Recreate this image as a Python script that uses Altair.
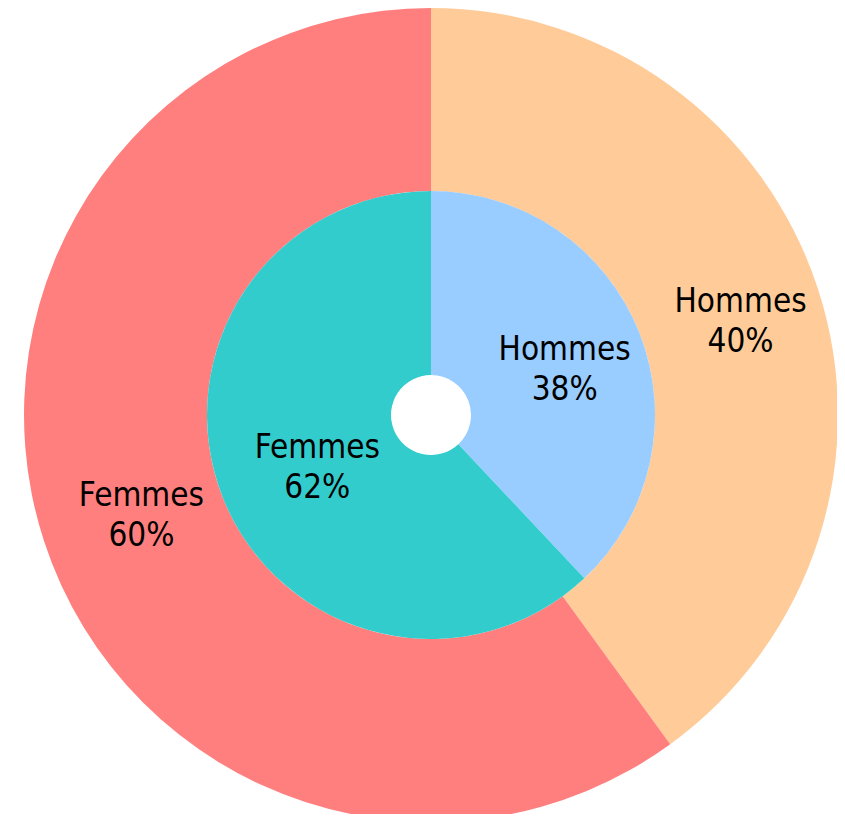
import altair as alt
import pandas as pd

categories = ["Hommes", "Femmes"]
outer_values = [40, 60]
inner_values = [38, 62]
outer_colors = ["#FFCC99", "#FF7F7F"]
inner_colors = ["#99CCFF", "#33CCCC"]

rows = []
for ring, vals in (("ext", outer_values), ("int", inner_values)):
    for i, (c, v) in enumerate(zip(categories, vals)):
        rows.append({"anneau": ring, "categorie": c, "valeur": v, "ordre": i,
                     "cle": f"{ring}-{c}", "etiquette": f"{c}\n{v}%"})
df = pd.DataFrame(rows)

domain = [f"ext-{c}" for c in categories] + [f"int-{c}" for c in categories]
rng = outer_colors + inner_colors

CX, CY = 423, 407
FONT = "DejaVu Sans Condensed"

def ring_layers(ring, r0, r1, rlab):
    base = alt.Chart(df).transform_filter(alt.datum.anneau == ring)
    arc = base.mark_arc(innerRadius=r0, outerRadius=r1, strokeWidth=0).encode(
        theta=alt.Theta("valeur:Q", stack=True),
        order=alt.Order("ordre:Q"),
        color=alt.Color("cle:N", scale=alt.Scale(domain=domain, range=rng), legend=None),
        x=alt.value(CX), y=alt.value(CY),
    )
    txt = base.mark_text(font=FONT, fontSize=33, color="#000000", lineBreak="\n",
                         lineHeight=40, align="center", baseline="middle",
                         dx=10, dy=-16).encode(
        theta=alt.Theta("valeur:Q", stack=True),
        order=alt.Order("ordre:Q"),
        radius=alt.value(rlab),
        text="etiquette:N",
        x=alt.value(CX), y=alt.value(CY),
    )
    return arc, txt

oa, ot = ring_layers("ext", 224, 407, 315)
ia, it = ring_layers("int", 40, 224, 133)

chart = alt.layer(oa, ia, ot, it).properties(
    width=829, height=806, padding=0, background="#FFFFFF",
    autosize=alt.AutoSizeParams(type="none"),
).configure_view(strokeWidth=0, stroke="transparent")

chart.save("out.html", embed_options={"renderer": "svg", "actions": False})
